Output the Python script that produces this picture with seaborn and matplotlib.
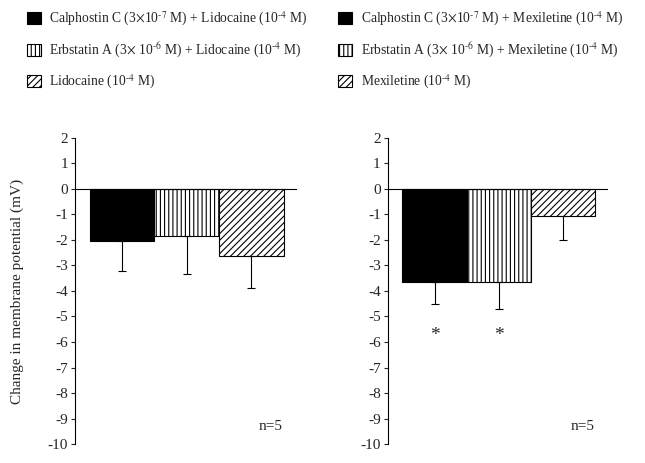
import pandas as pd
import seaborn as sns
import matplotlib.pyplot as plt
from matplotlib.patches import Patch

# Cambio del potencial de membrana: lidocaina vs mexiletina

grupos = ["A", "B", "C"]
lido_media = [-2.05, -1.83, -2.62]
lido_err = [1.15, 1.50, 1.28]
mexi_media = [-3.65, -3.65, -1.05]
mexi_err = [0.85, 1.05, 0.95]
mexi_sig = [True, True, False]

lido_labels = [r"Calphostin C (3$\times$10$^{\text{-7}}$ M) + Lidocaine (10$^{\text{-4}}$ M)",
               r"Erbstatin A (3$\times$ 10$^{\text{-6}}$ M) + Lidocaine (10$^{\text{-4}}$ M)",
               r"Lidocaine (10$^{\text{-4}}$ M)"]
mexi_labels = [r"Calphostin C (3$\times$10$^{\text{-7}}$ M) + Mexiletine (10$^{\text{-4}}$ M)",
               r"Erbstatin A (3$\times$ 10$^{\text{-6}}$ M) + Mexiletine (10$^{\text{-4}}$ M)",
               r"Mexiletine (10$^{\text{-4}}$ M)"]

colores = ["black", "white", "white"]
tramas = ["", "||||", "/////"]

sns.set_theme(style="white")
plt.rcParams["font.family"] = ["Liberation Serif", "DejaVu Serif"]
plt.rcParams["mathtext.fontset"] = "stix"
plt.rcParams["axes.unicode_minus"] = False
plt.rcParams["hatch.linewidth"] = 0.8

fig = plt.figure(figsize=(6.45, 4.63), dpi=100)
ax1 = fig.add_axes([0.116, 0.041, 0.344, 0.661])
ax2 = fig.add_axes([0.601, 0.041, 0.342, 0.661])


def panel(ax, medias, errs, labels, legend_x):
    df = pd.DataFrame({"grupo": grupos, "valor": medias})
    sns.barplot(data=df, x="grupo", y="valor", hue="grupo", palette=colores,
                width=1.0, errorbar=None, legend=False, ax=ax,
                edgecolor="black", linewidth=0.8)
    for p, h in zip(ax.patches, tramas):
        p.set_hatch(h)
    ax.errorbar(range(3), medias, yerr=[errs, [0] * 3], fmt="none",
                ecolor="black", elinewidth=0.8, capsize=3, capthick=0.8)
    ax.axhline(0, color="black", lw=0.8)
    ax.set_ylim(-10, 2)
    ax.set_xlim(-0.73, 2.7)
    ax.set_yticks(range(-10, 3))
    ax.set_yticklabels([str(v) for v in range(-10, 3)], fontsize=11)
    ax.tick_params(axis="y", direction="out", length=3, width=0.8, left=True, pad=2)
    ax.set_xticks([])
    ax.set_xlabel("")
    ax.set_ylabel("")
    for s in ["top", "right", "bottom"]:
        ax.spines[s].set_visible(False)
    ax.spines["left"].set_color("black")
    ax.spines["left"].set_linewidth(0.8)
    ax.text(2.3, -9.3, "n=5", fontsize=11, ha="center", va="center")
    handles = [Patch(facecolor=c, edgecolor="black", hatch=h, linewidth=0.8)
               for c, h in zip(colores, tramas)]
    fig.legend(handles, labels, loc="upper left", bbox_to_anchor=(legend_x, 1.0),
               frameon=False, fontsize=9.8, handlelength=1.0, handleheight=1.0,
               labelspacing=0.95, handletextpad=0.65, borderaxespad=0.3)


panel(ax1, lido_media, lido_err, lido_labels, 0.027)
panel(ax2, mexi_media, mexi_err, mexi_labels, 0.51)

for i, s in enumerate(mexi_sig):
    if s:
        ax2.text(i, -5.75, "*", fontsize=14, ha="center", va="center")

ax1.set_ylabel("Change in membrane potential (mV)", fontsize=11, labelpad=17)

fig.savefig("out.png", dpi=100)
